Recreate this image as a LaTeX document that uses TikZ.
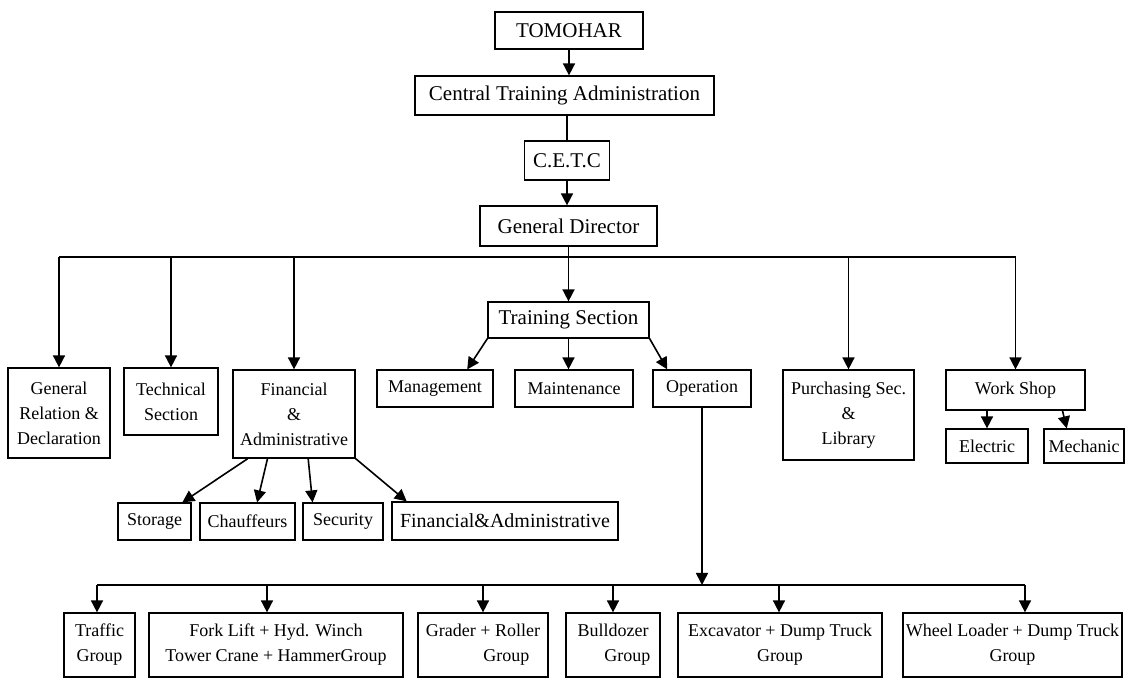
\documentclass[tikz,border=0pt]{standalone}
\usepackage{fontspec}
\setmainfont{Liberation Serif}
\usetikzlibrary{arrows.meta,calc}

\tikzset{
  box/.style 2 args={draw, line width=.6pt, inner sep=0pt, align=center,
    minimum width=#1*.5pt, minimum height=#2*.5pt},
  big/.style={font=\fontsize{10.5}{12.5}\selectfont},
  small/.style={font=\fontsize{9}{12.5}\selectfont},
  arr/.style={-{Triangle[length=6pt,width=6pt]}, line width=.8pt},
  conn/.style={line width=.8pt}
}

\begin{document}
\begin{tikzpicture}[x=.5pt,y=-.5pt]
  \useasboundingbox (0,0) rectangle (1126,679);
  % top chain
  \node[box={148}{37},big] (tom) at (569,30.5) {TOMOHAR};
  \node[box={299}{39},big] (cta) at (564.5,95.5) {Central Training Administration};
  \node[box={85}{39},big] (cetc) at (567,160.5) {C.E.T.C};
  \node[box={177}{40},big] (gd) at (568.5,226) {General Director};
  \draw[arr] (tom.south) -- (tom.south |- cta.north);
  \draw[conn] (cetc.north |- cta.south) -- (cetc.north);
  \draw[arr] (cetc.south) -- (cetc.south |- gd.north);

  % second level
  \node[box={102}{90},small] (grd) at (59,413) {General\\Relation \&\\Declaration};
  \node[box={94}{67},small] (tech) at (171,401.5) {Technical\\Section};
  \node[box={122}{88},small] (fin) at (294,414) {Financial\\\&\\Administrative};
  \node[box={161}{36},big] (ts) at (568.5,320) {Training Section};
  \node[box={131}{90},small] (pur) at (848.5,415) {Purchasing Sec.\\\&\\Library};
  \node[box={139}{40},small] (ws) at (1015.5,390) {Work Shop};
  \coordinate (bus) at (0,257);
  \draw[arr] (gd.south) -- (gd.south |- ts.north);
  \draw[conn] (grd.north |- bus) -- (ws.north |- bus);
  \foreach \n in {grd,tech,fin,pur,ws}
    \draw[arr] (\n.north |- bus) -- (\n.north);

  % training section
  \node[box={116}{37},small] (mgmt) at (435,388.5) {Management};
  \node[box={118}{37},small] (maint) at (574,388.5) {Maintenance};
  \node[box={98}{37},small] (oper) at (702,388.5) {Operation};
  \draw[arr] (ts.south west) -- ($(mgmt.north)!.55!(mgmt.north east)$);
  \draw[arr] (ts.south) -- (ts.south |- maint.north);
  \draw[arr] (ts.south east) -- ($(oper.north west)!.3!(oper.north)$);

  % work shop
  \node[box={82}{34},small] (elec) at (987,446) {Electric};
  \node[box={80}{34},small] (mech) at (1084,446) {Mechanic};
  \draw[arr] (elec.north |- ws.south) -- (elec.north);
  \draw[arr] ($(ws.south)!.67!(ws.south east)$) -- ($(mech.north west)!.575!(mech.north)$);

  % financial
  \node[box={73}{37},small] (sto) at (154.5,521.5) {Storage};
  \node[box={95}{37},small] (chau) at (247.5,521.5) {Chauffeurs};
  \node[box={80}{37},small] (sec) at (343,521.5) {Security};
  \node[box={226}{38},font=\fontsize{10}{12}\selectfont] (fa) at (505,521) {Financial\&Administrative};
  \draw[arr] ($(fin.south west)!.25!(fin.south)$) -- ($(sto.north east)!.25!(sto.north)$);
  \draw[arr] ($(fin.south west)!.57!(fin.south)$) -- ($(chau.north)!.2!(chau.north east)$);
  \draw[arr] ($(fin.south)!.23!(fin.south east)$) -- ($(sec.north west)!.25!(sec.north)$);
  \draw[arr] (fin.south east) -- ($(fa.north west)!.135!(fa.north)$);

  % operation groups
  \node[box={71}{64},small] (traf) at (99.5,645) {Traffic\\Group};
  \node[box={254}{64},small] (fork) at (276,645) {Fork Lift + Hyd. Winch\\Tower Crane + HammerGroup};
  \node[box={130}{64},small] (grad) at (483,645) {Grader + Roller\\\hspace*{2.6em}Group};
  \node[box={94}{64},small] (bull) at (613,645) {Bulldozer\\\hspace*{1.6em}Group};
  \node[box={204}{64},small] (exc) at (780,645) {Excavator + Dump Truck\\Group};
  \node[box={219}{64},small] (wheel) at (1012.5,645) {Wheel Loader + Dump Truck\\Group};
  \coordinate (lowbus) at (0,585);
  \draw[arr] (oper.south) -- (oper.south |- lowbus);
  \foreach \n/\x in {traf/97,fork/267,grad/483,bull/613,exc/779,wheel/1025} {
    \coordinate (d\n) at (\x,585);
    \draw[arr] (d\n) -- (d\n |- \n.north);
  }
  \draw[conn] (dtraf) -- (dwheel);
\end{tikzpicture}
\end{document}
